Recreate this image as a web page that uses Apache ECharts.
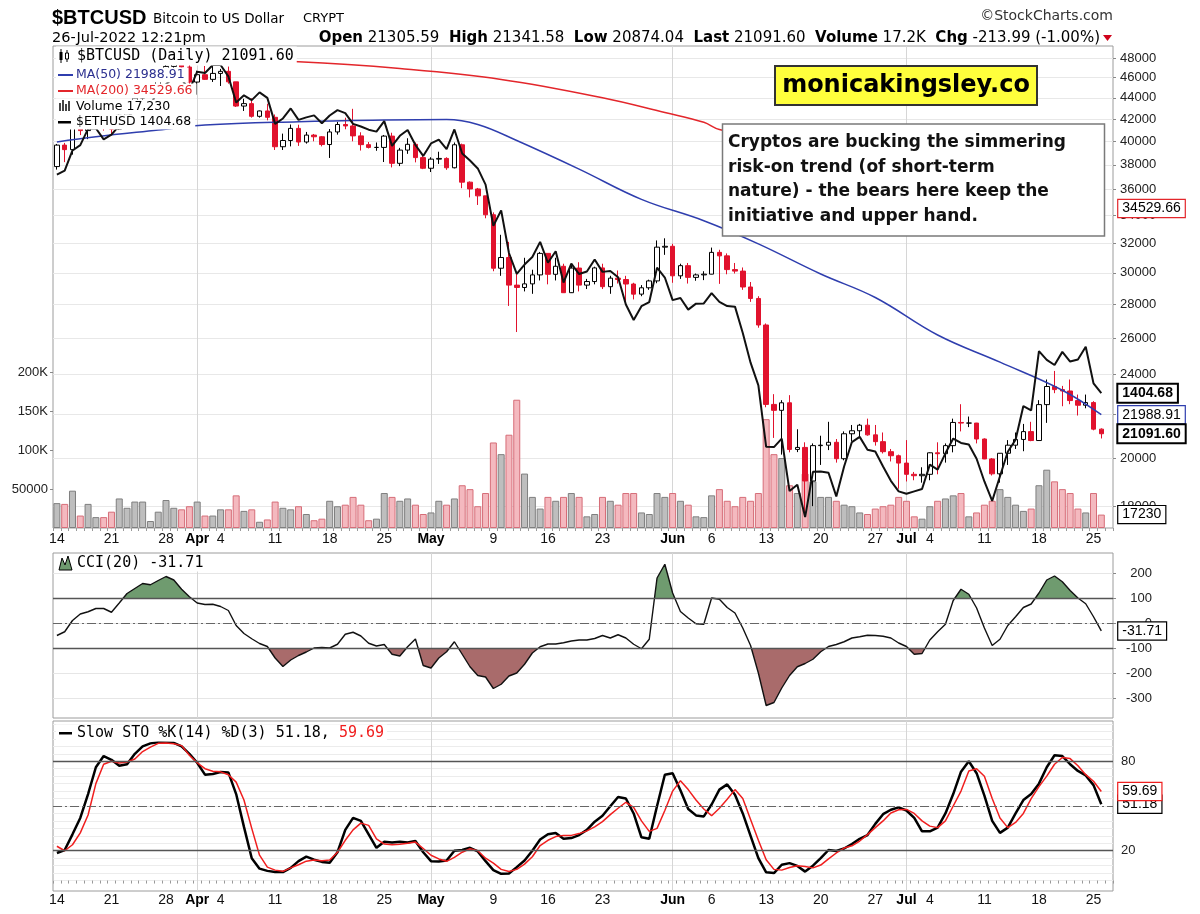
<!DOCTYPE html>
<html>
<head>
<meta charset="utf-8">
<title>$BTCUSD Bitcoin to US Dollar</title>
<script src="https://cdn.jsdelivr.net/npm/echarts@6/dist/echarts.min.js"></script>
<style>
  html, body { margin: 0; padding: 0; background: #fff; }
  #chart { width: 1200px; height: 914px; }
</style>
</head>
<body>
<div id="chart"></div>
<script>
const SANS = '"Liberation Sans", Arial, sans-serif';
const VERD = '"DejaVu Sans", Verdana, sans-serif';
const MONO = '"DejaVu Sans Mono", monospace';

// one slot per day, 14 Mar 2022 .. 27 Jul 2022 (last slot left empty)
const dates = [];
for (let t = Date.UTC(2022, 2, 14); dates.length < 136; t += 86400000) {
  dates.push(new Date(t).toISOString().slice(0, 10));
}

// daily bars [open, high, low, close]
const btcOhlc = [
  // Mar 14 - 31
  [37850,39770,37600,39670],[39670,39860,38220,39280],[39280,41680,38850,41140],[41140,41420,40550,40950],
  [40950,42320,40190,41800],[41800,42390,41530,42190],[42190,42240,40950,41250],[41250,41530,40570,41080],
  [41080,43030,41000,42360],[42360,42990,41830,42900],[42900,44110,42600,43960],[43960,45000,43650,44350],
  [44350,44800,44120,44500],[44500,46900,44420,46820],[46820,48190,46670,47130],[47130,48100,46950,47460],
  [47460,47690,46620,47060],[47060,47580,45210,45540],
  // Apr
  [45540,46690,44300,46280],[46280,47170,45750,45810],[45810,47420,45550,46410],[46410,46870,45150,46620],
  [46620,47110,45380,45560],[45560,45560,43120,43210],[43210,43900,42750,43440],[43440,43950,42130,42250],
  [42250,42790,42130,42750],[42750,43430,41880,42160],[42160,42420,39250,39530],[39530,40680,39250,40070],
  [40070,41500,39560,41150],[41150,41480,39600,39940],[39940,40830,39800,40550],[40550,40650,40000,40400],
  [40400,40460,39560,39720],[39720,41090,38570,40830],[40830,41740,40590,41500],[41500,42120,41070,41370],
  [41370,42950,40000,40480],[40480,40800,39200,39710],[39710,39940,39380,39470],[39470,39900,39180,39470],
  [39470,40560,38230,40460],[40460,40760,37780,38120],[38120,39430,37890,39240],[39240,40270,38920,39740],
  [39740,39900,38200,38600],[38600,38780,37640,37710],
  // May
  [37710,38630,37400,38470],[38470,39100,38070,38530],[38530,38630,37580,37750],[37750,39900,37700,39700],
  [39700,39800,36100,36580],[36580,36640,35380,36040],[36040,36120,34800,35500],[35500,35500,33800,34060],
  [34060,34240,30100,30300],[30300,32600,29800,31020],[31020,32100,27900,29200],[29200,30000,26350,29050],
  [29050,31000,28800,29280],[29280,30200,28650,29860],[29860,31400,29500,31300],[31300,31300,29250,29900],
  [29900,31000,29500,30430],[30430,30600,28700,28720],[28720,30500,28700,30310],[30310,30700,28800,29200],
  [29200,29600,28950,29430],[29430,30400,29250,30320],[30320,30600,28950,29100],[29100,29800,28650,29650],
  [29650,30150,29300,29560],[29560,29800,28100,29270],[29270,29350,28300,28630],[28630,29200,28500,29030],
  [29030,29550,28900,29470],[29470,32200,29320,31730],[31730,32350,31200,31790],
  // Jun
  [31790,31960,29350,29800],[29800,30600,29600,30470],[30470,30650,29300,29700],[29700,29950,29480,29860],
  [29860,30100,29520,29910],[29910,31700,29900,31370],[31370,31550,29280,31130],[31130,31300,29900,30210],
  [30210,30650,29950,30110],[30110,30350,28900,29080],[29080,29400,28150,28360],[28360,28500,26600,26760],
  [26760,26850,22350,22490],[22490,23000,20900,22200],[22200,22700,20150,22570],[22570,22950,20250,20380],
  [20380,21300,20260,20470],[20470,20700,17600,19020],[19020,20650,18000,20550],[20550,21000,19700,20570],
  [20570,21650,20350,20700],[20700,20850,19800,19970],[19970,21200,19900,21090],[21090,21500,20750,21230],
  [21230,21550,20900,21490],[21490,21800,21000,21040],[21040,21500,20550,20730],[20730,21150,20200,20280],
  [20280,20400,19850,20100],[20100,20150,18700,19780],
  // Jul 1 - 26
  [19780,20800,19000,19300],[19300,19400,19050,19240],[19240,19600,18950,19300],[19300,20250,19050,20230],
  [20230,20700,19300,20190],[20190,20650,19800,20550],[20550,21800,20250,21620],[21620,22500,21200,21590],
  [21590,21900,21400,21590],[21590,21600,20650,20850],[20850,20880,19950,19960],[19960,20000,19250,19320],
  [19320,20200,18950,20210],[20210,20800,19700,20570],[20570,21150,20400,20830],[20830,21550,20300,21190],
  [21190,21650,20750,20780],[20780,22700,20770,22480],[22480,23750,21600,23390],[23390,24200,23050,23230],
  [23230,23420,22400,23160],[23160,23750,22500,22680],[22680,22980,21950,22450],[22450,22980,22300,22580],
  [22580,22650,21250,21305.59],[21305.59,21341.58,20874.04,21091.60]
];

const volume = [
  32000,31000,48000,16000,31000,14000,14000,21000,38000,26000,34000,34000,9000,21000,36000,26000,24000,28000,
  34000,16000,16000,24000,24000,42000,22000,24000,8000,11000,34000,26000,24000,28000,18000,10000,12000,35000,
  28000,30000,40000,30000,10000,12000,45000,40000,35000,38000,30000,18000,
  20000,35000,30000,38000,55000,50000,28000,45000,110000,95000,120000,165000,70000,40000,25000,40000,35000,
  40000,45000,40000,15000,18000,40000,35000,30000,45000,45000,20000,18000,45000,40000,
  45000,35000,30000,15000,14000,42000,50000,35000,28000,40000,35000,45000,140000,95000,90000,55000,45000,
  70000,60000,40000,40000,35000,30000,28000,20000,18000,25000,28000,30000,40000,
  35000,15000,12000,28000,35000,38000,42000,45000,15000,20000,30000,35000,50000,40000,30000,22000,25000,
  55000,75000,60000,50000,45000,25000,20000,45000,17230
];

const ethUsd = [
  2591,2620,2772,2814,2945,2950,2860,2897,2972,3031,3108,3106,3142,3293,3336,3401,3385,3282,
  3456,3444,3522,3521,3411,3171,3235,3192,3262,3212,2986,3032,3118,3020,3041,3058,2992,3057,3103,3077,
  2986,2964,2938,2922,3009,2808,2888,2936,2815,2730,
  2827,2857,2783,2940,2749,2695,2636,2519,2245,2344,2080,1962,2014,2057,2146,2024,2090,1915,2019,1961,
  1975,2043,1973,1978,1944,1801,1724,1792,1813,1996,1942,
  1823,1834,1775,1805,1806,1859,1814,1793,1790,1663,1530,1436,1209,1208,1237,1068,1087,993,1127,1128,
  1124,1052,1144,1225,1243,1199,1193,1144,1099,1067,
  1060,1067,1074,1150,1134,1187,1237,1222,1217,1169,1097,1039,1113,1192,1233,1355,1339,1580,1542,1520,
  1577,1535,1544,1600,1444,1404.68
];

const ma50 = [
  ['2022-03-14',39950],['2022-03-19',40400],['2022-03-27',41000],['2022-04-02',41450],['2022-04-14',41750],
  ['2022-04-25',41900],['2022-05-03',41950],['2022-05-07',41500],['2022-05-12',40070],['2022-05-20',37640],
  ['2022-05-28',35230],['2022-06-05',33620],['2022-06-12',31960],['2022-06-20',29920],['2022-06-27',28420],
  ['2022-07-05',26180],['2022-07-13',24670],['2022-07-21',23200],['2022-07-26',21988.91]
];
const ma200 = [
  ['2022-03-14',48300],['2022-04-02',47800],['2022-04-14',47600],['2022-04-27',46900],['2022-05-10',45800],
  ['2022-05-23',44000],['2022-05-31',42600],['2022-06-05',41700],['2022-06-07',41050],['2022-06-15',40000],
  ['2022-06-25',38400],['2022-07-05',37000],['2022-07-15',35700],['2022-07-26',34529.66]
];

const cci = [
  -50,-35,10,36,45,58,58,43,80,118,138,158,153,170,186,172,135,105,
  80,74,75,66,50,-10,-42,-63,-82,-94,-140,-174,-148,-130,-116,-100,-98,-100,-85,-45,-37,-52,-81,-92,-86,
  -125,-132,-95,-64,-170,
  -180,-140,-115,-75,-125,-175,-210,-216,-262,-245,-212,-200,-165,-120,-95,-84,-84,-79,-72,-68,-68,-62,
  -50,-60,-47,-60,-85,-103,-65,180,235,
  120,46,20,-3,-5,100,95,62,40,-20,-90,-200,-330,-318,-260,-210,-175,-162,-145,-115,-94,-86,-75,-60,-55,
  -49,-50,-53,-60,-80,
  -94,-125,-122,-68,-35,-5,90,135,115,60,-20,-90,-65,-10,25,62,76,120,172,188,165,130,100,77,25,-31.71
];

const stoK = [
  18.5,20.5,31,42,58,76,83.5,81,77,78,85,90,92,92.8,92.6,92.4,90,85,
  79,71,71.5,72.8,72.5,58,36,15,8,6.5,5.7,5.7,8.5,13,16,14,12.5,12,19,34,42,40,31,22,26,25.5,26,25.5,26.5,19,
  13,12.8,13.5,20,20.5,22,19.5,13,7,4.5,4.8,9,13.5,20,27.5,31,31.9,28,28.5,30.5,34,39.5,43.5,49.8,56,55,45,
  29,28,50,71,
  72,60.5,48,43.7,43,51,61,64.5,57.5,45,30,15,5.5,5,10.6,11.7,9.8,6,10,15,20.5,19.8,21.5,24.5,28,30.5,38,
  44.5,47.5,49.1,
  47,42,33,33,35.5,45,58,73,80,72,57,40,32,35.5,45,54,58,65,76,84,83.5,78,73.5,70.5,64,51.18
];
const stoD = [
  23,20,24,32,44,65,78,80,78.9,79.5,81.5,86.5,89.5,92,92.3,91.8,90.5,84,
  79,75,73.3,72.9,71,66,54,35,17,9,7,6.2,8.5,10.6,13,13.8,13.3,13.8,19,27,34,38.5,37,28,24.5,24,24.3,25,
  25.8,21.5,
  17,14.5,12.9,15.5,19,21.3,20,15,11.7,7.5,6.1,7.5,11,16,23.5,27,29.5,30.3,30.3,31.5,33.3,36,39.5,44.2,
  48.5,52.5,49,40,33,35,47,
  60,67,61,54,48,43.5,48.5,54.5,61,55,41,27,14,7.5,7,8.8,10,9.5,8.5,10.4,14.5,18.5,21.8,23.3,26.5,30.8,
  35.5,40,45.3,47.5,
  47.7,45,40,36.5,35.5,40,50,60,73.5,75,70,55,42,35.5,39,45,55,63,70,78,82.5,81.8,77,71,66.6,59.69
];

const priceTicks = [18000,20000,22000,24000,26000,28000,30000,32000,34000,36000,38000,40000,42000,44000,46000,48000];
const volTicks = [50000,100000,150000,200000];
const cciTicks = [-300,-200,-100,0,100,200];
const stoLabels = [20,80];
const stoGrid = [0,5,10,15,20,25,30,35,40,45,50,55,60,65,70,75,80,85,90,95,100,105];

const MON = ['Jan','Feb','Mar','Apr','May','Jun','Jul','Aug','Sep','Oct','Nov','Dec'];
function dayLabel(s) {
  const d = new Date(s + 'T00:00:00Z');
  const dd = d.getUTCDate();
  if (dd === 1) return '{m|' + MON[d.getUTCMonth()] + '}';
  if (d.getUTCDay() === 1 && dd > 3 && dd < 29) return String(dd);
  return '';
}

const n = btcOhlc.length;
const last = btcOhlc[n - 1];
const prevClose = btcOhlc[n - 2][3];
const chg = last[3] - prevClose;
const lastDate = dates[n - 1];

const candleData = btcOhlc.map((r, i) => {
  const [o, h, l, c] = r;
  const prev = i ? btcOhlc[i - 1][3] : o;
  const col = c >= prev ? '#000000' : '#e1122d';
  const fill = c > o ? '#ffffff' : col;
  return { value: [o, c, l, h], itemStyle: { color: fill, color0: fill, borderColor: col, borderColor0: col } };
});
const volData = volume.map((v, i) => {
  const c = btcOhlc[i][3];
  const prev = i ? btcOhlc[i - 1][3] : btcOhlc[i][0];
  const up = c >= prev;
  return { value: v, itemStyle: { color: up ? '#bebebe' : '#f4b9bf', borderColor: up ? '#7f7f7f' : '#d66d78', borderWidth: 1 } };
});

function tag(text, border, bold) {
  return {
    show: true, formatter: () => text, distance: 17,
    color: '#000', fontFamily: SANS, fontSize: 14, fontWeight: bold ? 'bold' : 'normal',
    backgroundColor: '#fff', borderColor: border, borderWidth: bold ? 2 : 1.2,
    padding: [2, 4, 1, 4]
  };
}
function tagSeries(xi, yi, value, text, border, bold) {
  return {
    type: 'line', xAxisIndex: xi, yAxisIndex: yi, data: [[lastDate, value]],
    symbol: 'none', lineStyle: { width: 0 }, z: 20, silent: true,
    endLabel: tag(text, border, bold)
  };
}

const xAxes = [0, 1, 2].map(g => ({
  type: 'category', gridIndex: g, data: dates, boundaryGap: true,
  axisLine: { show: false },
  axisTick: { show: g !== 1, interval: 0, length: 3, lineStyle: { color: '#999' } },
  axisLabel: {
    show: g !== 1, interval: (i, v) => dayLabel(v) !== '', formatter: v => dayLabel(v),
    margin: g === 0 ? 4 : 2, color: '#111', fontFamily: SANS, fontSize: 14,
    rich: { m: { fontWeight: 'bold', fontSize: 14, fontFamily: SANS, color: '#000' } }
  },
  splitLine: { show: true, interval: (i, v) => v.slice(8) === '01', alignWithLabel: true, lineStyle: { color: '#d6d6d6' } }
}));

const axisText = { color: '#222', fontFamily: SANS, fontSize: 13 };

const yAxes = [
  { // price, log
    type: 'log', logBase: 10, gridIndex: 0, position: 'right', min: 17160, max: 49280,
    axisLine: { show: false },
    axisTick: { show: true, length: 3, customValues: priceTicks, lineStyle: { color: '#888' } },
    axisLabel: Object.assign({ customValues: priceTicks, margin: 7, formatter: v => String(Math.round(v)) }, axisText),
    splitLine: { show: true, lineStyle: { color: '#e8e8e8' } }
  },
  { // volume
    type: 'value', gridIndex: 0, position: 'left', min: 0, max: 620000,
    axisLine: { show: false },
    axisTick: { show: true, length: 3, customValues: volTicks, lineStyle: { color: '#888' } },
    axisLabel: Object.assign({ customValues: volTicks, margin: 5, formatter: v => v >= 100000 ? (v / 1000) + 'K' : String(v) }, axisText),
    splitLine: { show: false }
  },
  { // ETH overlay scale
    type: 'log', logBase: 10, gridIndex: 0, position: 'right', min: 963, max: 3714, show: false
  },
  { // CCI
    type: 'value', gridIndex: 1, position: 'right', min: -380, max: 280,
    axisLine: { show: false },
    axisTick: { show: true, length: 3, customValues: cciTicks, lineStyle: { color: '#888' } },
    axisLabel: Object.assign({ customValues: cciTicks, margin: 39, align: 'right' }, axisText),
    splitLine: { show: true, lineStyle: { color: '#e6e6e6' } }
  },
  { // slow stochastic
    type: 'value', gridIndex: 2, position: 'right', min: -7, max: 107,
    axisLine: { show: false },
    axisTick: { show: false, customValues: stoGrid },
    axisLabel: Object.assign({ customValues: stoLabels, margin: 8 }, axisText),
    splitLine: { show: true, lineStyle: { color: '#ececec' } }
  }
];

const refLine = (v, dashed) => ({
  yAxis: v,
  lineStyle: dashed ? { color: '#666', type: [9, 3, 2, 3], width: 1 } : { color: '#555', type: 'solid', width: 1.3 }
});

const series = [
  { type: 'bar', name: 'Volume', xAxisIndex: 0, yAxisIndex: 1, data: volData, barWidth: 7, z: 1, silent: true },
  { type: 'candlestick', name: '$BTCUSD', xAxisIndex: 0, yAxisIndex: 0, data: candleData, barWidth: 5, z: 3 },
  { type: 'line', name: 'MA(200)', xAxisIndex: 0, yAxisIndex: 0, data: ma200, smooth: 0.4, symbol: 'none',
    lineStyle: { color: '#e3262b', width: 1.5 }, z: 4, endLabel: tag('34529.66', '#e3262b', false) },
  { type: 'line', name: 'MA(50)', xAxisIndex: 0, yAxisIndex: 0, data: ma50, smooth: 0.4, symbol: 'none',
    lineStyle: { color: '#2f3eae', width: 1.5 }, z: 4, endLabel: tag('21988.91', '#2f3eae', false) },
  { type: 'line', name: '$ETHUSD', xAxisIndex: 0, yAxisIndex: 2, data: ethUsd, symbol: 'none',
    lineStyle: { color: '#111', width: 2 }, z: 5, endLabel: tag(ethUsd[n - 1].toFixed(2), '#000', true) },
  tagSeries(0, 0, last[3], last[3].toFixed(2), '#000', true),
  tagSeries(0, 1, volume[n - 1], String(volume[n - 1]), '#000', false),
  { type: 'line', name: 'cciFill', xAxisIndex: 1, yAxisIndex: 3, data: cci, symbol: 'none',
    lineStyle: { width: 0, opacity: 0 }, areaStyle: { opacity: 1 }, z: 2, silent: true },
  { type: 'line', name: 'CCI(20)', xAxisIndex: 1, yAxisIndex: 3, data: cci, symbol: 'none',
    lineStyle: { color: '#111', width: 1.4 }, z: 3,
    markLine: { silent: true, symbol: ['none', 'none'], label: { show: false }, animation: false,
      data: [refLine(100), refLine(-100), refLine(0, true)] },
    endLabel: tag(cci[n - 1].toFixed(2), '#000', false) },
  { type: 'line', name: '%K', xAxisIndex: 2, yAxisIndex: 4, data: stoK, symbol: 'none',
    lineStyle: { color: '#000', width: 2.5 }, z: 3,
    markLine: { silent: true, symbol: ['none', 'none'], label: { show: false }, animation: false,
      data: [refLine(80), refLine(20), refLine(50, true)] },
    endLabel: Object.assign(tag(stoK[n - 1].toFixed(2), '#000', false), { z: 30 }) },
  { type: 'line', name: '%D', xAxisIndex: 2, yAxisIndex: 4, data: stoD, symbol: 'none',
    lineStyle: { color: '#f01e1e', width: 1.5 }, z: 4,
    endLabel: tag(stoD[n - 1].toFixed(2), '#f01e1e', false) }
];

function txt(x, y, text, style) {
  return { type: 'text', x: x, y: y, z: 100, silent: true,
    style: Object.assign({ text: text, fill: '#000', verticalAlign: 'middle' }, style) };
}
const bgRow = { backgroundColor: '#fff', padding: [1, 4, 1, 20] };

const hdr = '{b|Open} ' + last[0].toFixed(2) + '  {b|High} ' + last[1].toFixed(2) +
  '  {b|Low} ' + last[2].toFixed(2) + '  {b|Last} ' + last[3].toFixed(2) +
  '  {b|Volume} ' + (volume[n - 1] / 1000).toFixed(1) + 'K  {b|Chg} ' + chg.toFixed(2) +
  ' (' + (chg / prevClose * 100).toFixed(2) + '%)';

const graphic = [
  // header
  txt(52, 18, '$BTCUSD', { fontFamily: SANS, fontWeight: 'bold', fontSize: 20 }),
  txt(153, 19, 'Bitcoin to US Dollar', { fontFamily: VERD, fontSize: 13.5 }),
  txt(303, 19, 'CRYPT', { fontFamily: VERD, fontSize: 13 }),
  txt(1113, 16, '\u00A9StockCharts.com', { fontFamily: VERD, fontSize: 14, fill: '#333', align: 'right' }),
  txt(52, 38, '26-Jul-2022 12:21pm', { fontFamily: VERD, fontSize: 14.5 }),
  txt(1100, 38, hdr, { fontFamily: VERD, fontSize: 15, align: 'right',
    rich: { b: { fontFamily: VERD, fontSize: 15, fontWeight: 'bold' } } }),
  { type: 'polygon', z: 100, silent: true, shape: { points: [[1103, 35], [1112, 35], [1107.5, 41]] }, style: { fill: '#d0021b' } },

  // price panel legend
  txt(56, 56, '$BTCUSD (Daily) ' + last[3].toFixed(2), Object.assign({ fontFamily: MONO, fontSize: 15 }, bgRow, { padding: [2, 3, 2, 21] })),
  { type: 'line', z: 101, silent: true, shape: { x1: 61, y1: 49, x2: 61, y2: 63 }, style: { stroke: '#000', lineWidth: 1 } },
  { type: 'rect', z: 101, silent: true, shape: { x: 59.5, y: 52, width: 3, height: 8 }, style: { fill: '#000' } },
  { type: 'line', z: 101, silent: true, shape: { x1: 67, y1: 50, x2: 67, y2: 62 }, style: { stroke: '#000', lineWidth: 1 } },
  { type: 'rect', z: 101, silent: true, shape: { x: 65.5, y: 53, width: 3, height: 6 }, style: { fill: '#fff', stroke: '#000', lineWidth: 1 } },
  txt(56, 75, 'MA(50) 21988.91', Object.assign({ fontFamily: VERD, fontSize: 12.5, fill: '#2b2f8f' }, bgRow)),
  { type: 'rect', z: 101, silent: true, shape: { x: 58, y: 74, width: 15, height: 2 }, style: { fill: '#2f3eae' } },
  txt(56, 91, 'MA(200) 34529.66', Object.assign({ fontFamily: VERD, fontSize: 12.5, fill: '#e3262b' }, bgRow)),
  { type: 'rect', z: 101, silent: true, shape: { x: 58, y: 90, width: 15, height: 2 }, style: { fill: '#e3262b' } },
  txt(56, 107, 'Volume ' + volume[n - 1].toLocaleString('en-US'), Object.assign({ fontFamily: VERD, fontSize: 12.5 }, bgRow)),
  { type: 'rect', z: 101, silent: true, shape: { x: 59, y: 103, width: 2, height: 8 }, style: { fill: '#444' } },
  { type: 'rect', z: 101, silent: true, shape: { x: 62, y: 100, width: 2, height: 11 }, style: { fill: '#444' } },
  { type: 'rect', z: 101, silent: true, shape: { x: 65, y: 104, width: 2, height: 7 }, style: { fill: '#444' } },
  { type: 'rect', z: 101, silent: true, shape: { x: 68, y: 101, width: 2, height: 10 }, style: { fill: '#444' } },
  txt(56, 122, '$ETHUSD ' + ethUsd[n - 1].toFixed(2), Object.assign({ fontFamily: VERD, fontSize: 12.5 }, bgRow)),
  { type: 'rect', z: 101, silent: true, shape: { x: 58, y: 121, width: 13, height: 2.5 }, style: { fill: '#000' } },

  // indicator legends
  txt(56, 563, 'CCI(20) ' + cci[n - 1].toFixed(2), Object.assign({ fontFamily: MONO, fontSize: 15 }, bgRow, { padding: [1, 3, 1, 21] })),
  { type: 'polygon', z: 101, silent: true, shape: { points: [[59, 570], [62, 558], [65, 565], [68, 556], [72, 570]] }, style: { fill: '#6f9b6f', stroke: '#000', lineWidth: 1 } },
  txt(56, 733, '{k|Slow STO %K(14) %D(3) ' + stoK[n - 1].toFixed(2) + ', }{d|' + stoD[n - 1].toFixed(2) + '}',
    Object.assign({ fontFamily: MONO, fontSize: 15, rich: { k: { fontFamily: MONO, fontSize: 15, fill: '#000' }, d: { fontFamily: MONO, fontSize: 15, fill: '#f01e1e' } } }, bgRow, { padding: [1, 3, 1, 21] })),
  { type: 'rect', z: 101, silent: true, shape: { x: 59, y: 732, width: 13, height: 2.5 }, style: { fill: '#000' } },

  // annotations
  { type: 'rect', z: 100, silent: true, shape: { x: 775, y: 66, width: 262, height: 39 }, style: { fill: '#ffff3c', stroke: '#333', lineWidth: 2 } },
  txt(906, 86, 'monicakingsley.co', { fontFamily: VERD, fontWeight: 'bold', fontSize: 24, align: 'center' }),
  { type: 'rect', z: 100, silent: true, shape: { x: 722.5, y: 124, width: 382, height: 112 }, style: { fill: '#fff', stroke: '#7a7a7a', lineWidth: 1.5 } },
  txt(728, 143, 'Cryptos are bucking the simmering', { fontFamily: VERD, fontWeight: 'bold', fontSize: 17, fill: '#111' }),
  txt(728, 168, 'risk-on trend (of short-term', { fontFamily: VERD, fontWeight: 'bold', fontSize: 17, fill: '#111' }),
  txt(728, 192, 'nature) - the bears here keep the', { fontFamily: VERD, fontWeight: 'bold', fontSize: 17, fill: '#111' }),
  txt(728, 217, 'initiative and upper hand.', { fontFamily: VERD, fontWeight: 'bold', fontSize: 17, fill: '#111' })
];

const chart = echarts.init(document.getElementById('chart'), null, { renderer: 'canvas' });
chart.setOption({
  animation: false,
  backgroundColor: '#fff',
  textStyle: { fontFamily: SANS },
  grid: [
    { left: 53, width: 1060, top: 46, height: 482, show: true, borderColor: '#9c9c9c', borderWidth: 1 },
    { left: 53, width: 1060, top: 553, height: 165, show: true, borderColor: '#9c9c9c', borderWidth: 1 },
    { left: 53, width: 1060, top: 721, height: 170, show: true, borderColor: '#9c9c9c', borderWidth: 1 }
  ],
  xAxis: xAxes,
  yAxis: yAxes,
  visualMap: [{
    type: 'piecewise', show: false, seriesIndex: 7, dimension: 1,
    pieces: [
      { gt: 100, color: '#6f9b6f' },
      { gte: -100, lte: 100, color: 'rgba(255,255,255,0)' },
      { lt: -100, color: '#a96b6b' }
    ]
  }],
  series: series,
  graphic: graphic
});
</script>
</body>
</html>
